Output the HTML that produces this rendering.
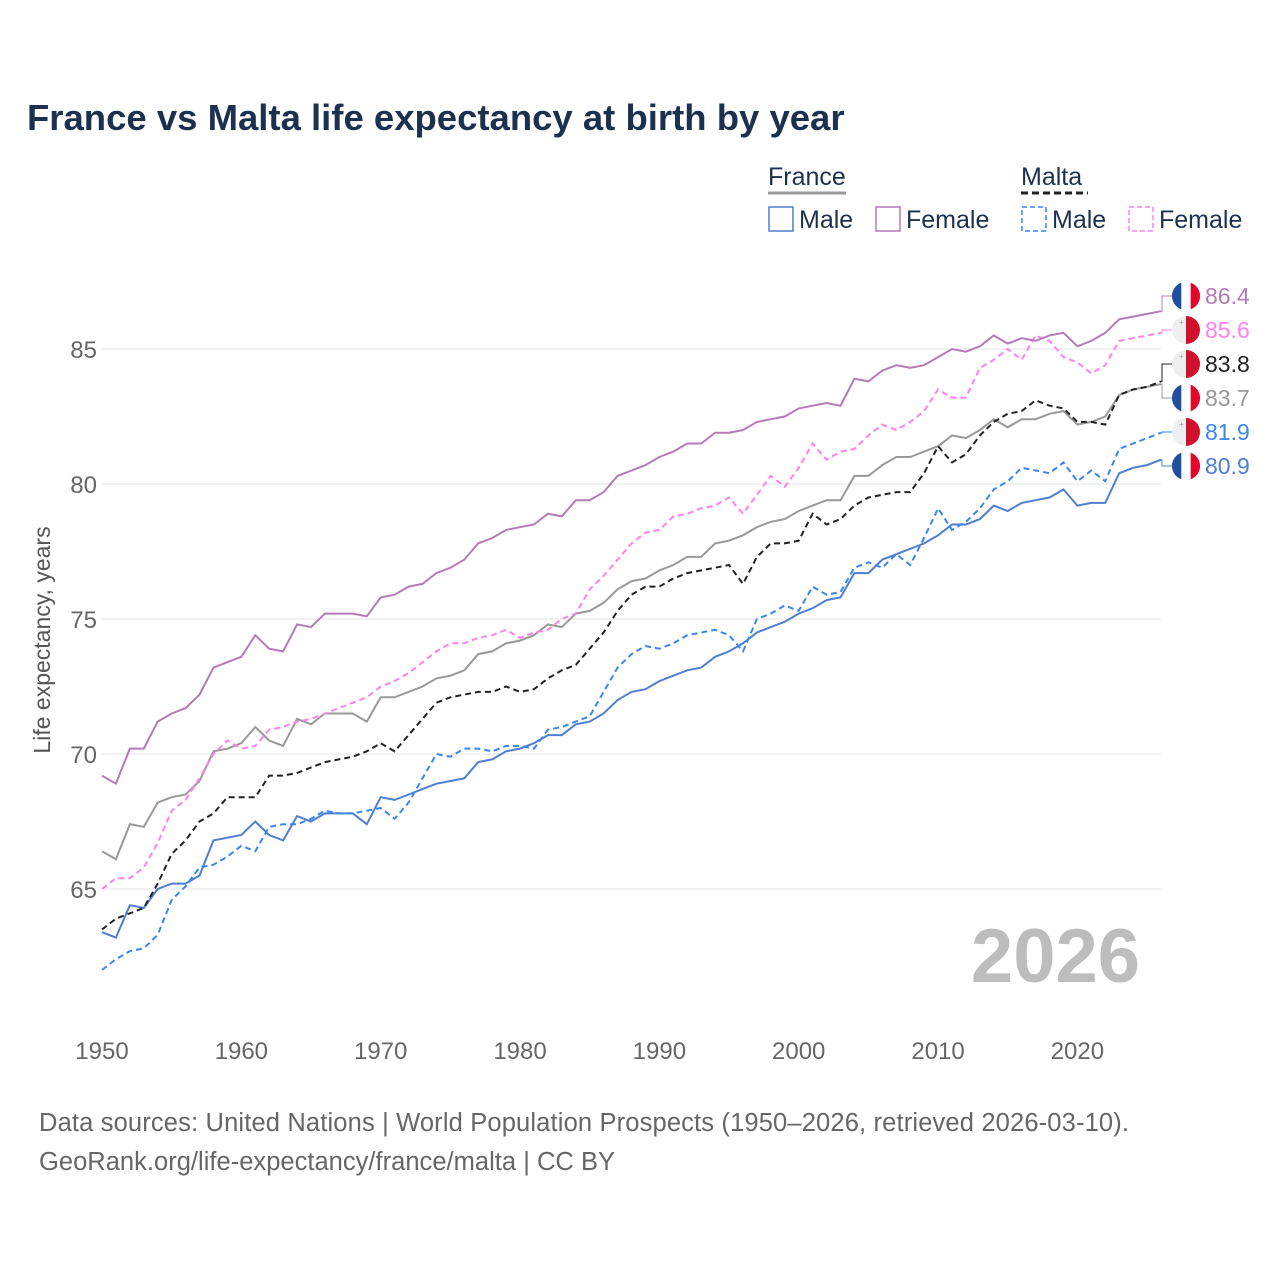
<!DOCTYPE html>
<html><head><meta charset="utf-8"><style>
body{margin:0;background:#fff;font-family:"Liberation Sans",sans-serif;}
svg text{font-family:"Liberation Sans",sans-serif;}
</style></head><body>
<svg width="1280" height="1280" viewBox="0 0 1280 1280">
<text x="27" y="130" font-size="36.5" font-weight="bold" fill="#1c3050">France vs Malta life expectancy at birth by year</text>
<g font-size="25" fill="#1c3050">
<text x="768" y="185">France</text>
<line x1="768" y1="193" x2="846" y2="193" stroke="#999" stroke-width="3"/>
<text x="1021" y="185">Malta</text>
<line x1="1021" y1="193" x2="1088" y2="193" stroke="#222" stroke-width="3" stroke-dasharray="7,4"/>
<g><rect x="769" y="207" width="24" height="24" fill="none" stroke="#4f7fcf" stroke-width="1.5"/><text x="799" y="228">Male</text></g>
<g><rect x="876" y="207" width="24" height="24" fill="none" stroke="#b57ab8" stroke-width="1.5"/><text x="906" y="228">Female</text></g>
<g><rect x="1022" y="207" width="24" height="24" fill="none" stroke="#3a86f0" stroke-width="1.5" stroke-dasharray="5,3"/><text x="1052" y="228">Male</text></g>
<g><rect x="1129" y="207" width="24" height="24" fill="none" stroke="#ff80f0" stroke-width="1.5" stroke-dasharray="5,3"/><text x="1159" y="228">Female</text></g>
</g>
<g id="grid"></g>
<g id="yticks"></g>
<g id="xticks"></g>
<text transform="translate(50,640) rotate(-90)" text-anchor="middle" font-size="23" fill="#555">Life expectancy, years</text>
<text x="1140" y="982" text-anchor="end" font-size="76" font-weight="bold" fill="#bdbdbd">2026</text>
<g id="lines"></g>
<g id="endlabels"></g>
<text x="39" y="1131" font-size="25.5" fill="#666" textLength="1090">Data sources: United Nations | World Population Prospects (1950–2026, retrieved 2026-03-10).</text>
<text x="39" y="1170" font-size="25.5" fill="#666" textLength="576">GeoRank.org/life-expectancy/france/malta | CC BY</text>
</svg>
<script>
const years=[];for(let y=1950;y<=2026;y++)years.push(y);
const yTicks=[65,70,75,80,85];
const xTicks=[1950,1960,1970,1980,1990,2000,2010,2020];
const franceFemale=[69.2,68.9,70.2,70.2,71.2,71.5,71.7,72.2,73.2,73.4,73.6,74.4,73.9,73.8,74.8,74.7,75.2,75.2,75.2,75.1,75.8,75.9,76.2,76.3,76.7,76.9,77.2,77.8,78.0,78.3,78.4,78.5,78.9,78.8,79.4,79.4,79.7,80.3,80.5,80.7,81.0,81.2,81.5,81.5,81.9,81.9,82.0,82.3,82.4,82.5,82.8,82.9,83.0,82.9,83.9,83.8,84.2,84.4,84.3,84.4,84.7,85.0,84.9,85.1,85.5,85.2,85.4,85.3,85.5,85.6,85.1,85.3,85.6,86.1,86.2,86.3,86.4];
const maltaFemale=[65.0,65.4,65.4,65.8,66.7,67.9,68.3,69.1,70.0,70.5,70.2,70.3,70.9,71.0,71.2,71.3,71.5,71.7,71.9,72.1,72.5,72.7,73.0,73.4,73.8,74.1,74.1,74.3,74.4,74.6,74.3,74.5,74.6,75.0,75.2,76.1,76.6,77.2,77.8,78.2,78.3,78.8,78.9,79.1,79.2,79.5,78.9,79.6,80.3,79.9,80.6,81.5,80.9,81.2,81.3,81.8,82.2,82.0,82.3,82.7,83.5,83.2,83.2,84.3,84.6,85.0,84.6,85.5,85.3,84.7,84.5,84.1,84.4,85.3,85.4,85.5,85.6];
const franceTotal=[66.4,66.1,67.4,67.3,68.2,68.4,68.5,69.0,70.1,70.2,70.4,71.0,70.5,70.3,71.3,71.1,71.5,71.5,71.5,71.2,72.1,72.1,72.3,72.5,72.8,72.9,73.1,73.7,73.8,74.1,74.2,74.4,74.8,74.7,75.2,75.3,75.6,76.1,76.4,76.5,76.8,77.0,77.3,77.3,77.8,77.9,78.1,78.4,78.6,78.7,79.0,79.2,79.4,79.4,80.3,80.3,80.7,81.0,81.0,81.2,81.4,81.8,81.7,82.0,82.4,82.1,82.4,82.4,82.6,82.7,82.2,82.3,82.5,83.3,83.5,83.6,83.7];
const maltaTotal=[63.5,63.9,64.1,64.3,65.2,66.3,66.8,67.5,67.8,68.4,68.4,68.4,69.2,69.2,69.3,69.5,69.7,69.8,69.9,70.1,70.4,70.1,70.7,71.3,71.9,72.1,72.2,72.3,72.3,72.5,72.3,72.4,72.8,73.1,73.3,73.9,74.5,75.3,75.9,76.2,76.2,76.5,76.7,76.8,76.9,77.0,76.3,77.3,77.8,77.8,77.9,78.9,78.5,78.7,79.2,79.5,79.6,79.7,79.7,80.4,81.4,80.8,81.1,81.8,82.3,82.6,82.7,83.1,82.9,82.8,82.3,82.3,82.2,83.3,83.5,83.6,83.8];
const franceMale=[63.4,63.2,64.4,64.3,65.0,65.2,65.2,65.5,66.8,66.9,67.0,67.5,67.0,66.8,67.7,67.5,67.8,67.8,67.8,67.4,68.4,68.3,68.5,68.7,68.9,69.0,69.1,69.7,69.8,70.1,70.2,70.4,70.7,70.7,71.1,71.2,71.5,72.0,72.3,72.4,72.7,72.9,73.1,73.2,73.6,73.8,74.1,74.5,74.7,74.9,75.2,75.4,75.7,75.8,76.7,76.7,77.2,77.4,77.6,77.8,78.1,78.5,78.5,78.7,79.2,79.0,79.3,79.4,79.5,79.8,79.2,79.3,79.3,80.4,80.6,80.7,80.9];
const maltaMale=[62.0,62.4,62.7,62.8,63.3,64.6,65.1,65.8,65.9,66.2,66.6,66.4,67.3,67.4,67.4,67.6,67.9,67.8,67.8,67.9,68.0,67.6,68.2,69.1,70.0,69.9,70.2,70.2,70.1,70.3,70.3,70.2,70.9,71.0,71.2,71.4,72.3,73.2,73.7,74.0,73.9,74.1,74.4,74.5,74.6,74.4,73.8,75.0,75.2,75.5,75.3,76.2,75.9,76.0,76.9,77.1,76.9,77.4,77.0,78.0,79.1,78.3,78.6,79.1,79.8,80.1,80.6,80.5,80.4,80.8,80.1,80.5,80.1,81.3,81.5,81.7,81.9];
const X=y=>102+(y-1950)*(1059/76);
const Y=v=>349+(85-v)*27;
const NS='http://www.w3.org/2000/svg';
function mk(tag,attrs,parent){const e=document.createElementNS(NS,tag);for(const k in attrs)e.setAttribute(k,attrs[k]);parent.appendChild(e);return e;}
const grid=document.getElementById('grid'),yt=document.getElementById('yticks'),xt=document.getElementById('xticks');
yTicks.forEach(v=>{
 const l=mk('line',{x1:102,x2:1161,y1:Y(v),y2:Y(v),stroke:'#e6e6e6','stroke-width':1},grid);
 
 
 const t=mk('text',{x:97,y:Y(v)+9,'text-anchor':'end','font-size':24,fill:'#666'},yt);
 t.textContent=v;
 
 
});
xTicks.forEach(v=>{
 const t=mk('text',{x:X(v),y:1059,'text-anchor':'middle','font-size':24,fill:'#666'},xt);
 t.textContent=v;
 
 
});
const series=[
 {d:franceFemale,c:'#b57ab8',dash:null,n:'france-female',ly:296,f:'fr'},
 {d:maltaFemale,c:'#ff80f0',dash:'6,4',n:'malta-female',ly:330,f:'mt'},
 {d:maltaTotal,c:'#222',dash:'6,4',n:'malta-total',ly:364,f:'mt'},
 {d:franceTotal,c:'#999',dash:null,n:'france-total',ly:398,f:'fr'},
 {d:maltaMale,c:'#3a86f0',dash:'6,4',n:'malta-male',ly:432,f:'mt'},
 {d:franceMale,c:'#4f7fcf',dash:null,n:'france-male',ly:466,f:'fr'}
];
const lines=document.getElementById('lines'),el=document.getElementById('endlabels');
[series[5],series[4],series[3],series[2],series[1],series[0]].forEach(s=>{
 const p=mk('path',{d:s.d.map((v,i)=>(i?'L':'M')+X(years[i]).toFixed(1)+','+Y(v).toFixed(1)).join(''),fill:'none',stroke:s.c,'stroke-width':2},lines);
 if(s.dash)p.setAttribute('stroke-dasharray',s.dash);
 
 
});
series.forEach(s=>{
 const v=s.d[s.d.length-1],yy=Y(v);
 const g=mk('g',{},el);
 
 
 mk('path',{d:`M1161,${yy.toFixed(1)}H1162V${s.ly}H1172`,fill:'none',stroke:s.c,'stroke-width':1},g);
 const cx=1186,cy=s.ly;
 if(s.f==='fr'){
  mk('circle',{cx,cy,r:14,fill:'#fff'},g);
  mk('path',{d:`M${cx-4.7},${cy-13.2}A14,14 0 0,0 ${cx-4.7},${cy+13.2}Z`,fill:'#1f4fa0'},g);
  mk('path',{d:`M${cx+4.7},${cy-13.2}A14,14 0 0,1 ${cx+4.7},${cy+13.2}Z`,fill:'#e1062c'},g);
 }else{
  mk('circle',{cx,cy,r:14,fill:'#eee'},g);
  mk('path',{d:`M${cx},${cy-14}A14,14 0 0,1 ${cx},${cy+14}Z`,fill:'#d0102c'},g);
  mk('text',{x:cx-7,y:cy-5,'font-size':8,fill:'#999'},g).textContent='+';
 }
 const t=mk('text',{x:1205,y:s.ly+8,'font-size':23,fill:s.c},g);
 t.textContent=v.toFixed(1);
});
</script>
</body></html>
